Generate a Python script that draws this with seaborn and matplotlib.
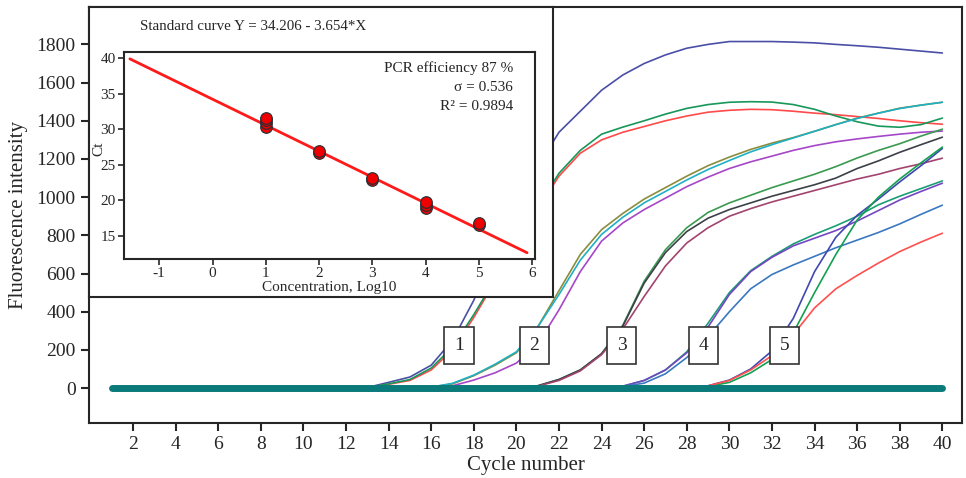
import matplotlib
matplotlib.use("Agg")
import matplotlib.pyplot as plt
import numpy as np
import pandas as pd
import seaborn as sns

# amplification curves (fluorescence per cycle)
g1_cycles = list(range(13, 41))
g1_blue = [3, 30, 58, 120, 250, 460, 730, 960, 1160, 1340, 1450, 1560, 1640, 1700,
           1745, 1780, 1800, 1815, 1815, 1815, 1812, 1808, 1800, 1793, 1785, 1775, 1765, 1755]
g1_red = [3, 20, 40, 95, 200, 370, 560, 760, 940, 1110, 1230, 1300, 1340, 1370,
          1400, 1425, 1445, 1455, 1460, 1458, 1450, 1440, 1432, 1422, 1412, 1400, 1390, 1382]
g1_green = [3, 22, 45, 105, 215, 385, 570, 770, 950, 1125, 1245, 1330, 1367, 1400,
            1435, 1465, 1485, 1497, 1500, 1498, 1485, 1460, 1425, 1395, 1372, 1366, 1380, 1414]

g2_cycles = list(range(16, 41))
g2_olive = [5, 22, 65, 120, 185, 320, 510, 700, 830, 915, 990, 1050, 1110, 1165, 1210,
            1250, 1283, 1312, 1345, 1380, 1414, 1440, 1466, 1482, 1497]
g2_cyan = [5, 25, 68, 125, 190, 320, 490, 670, 805, 895, 970, 1030, 1090, 1145, 1192,
           1237, 1275, 1310, 1345, 1380, 1412, 1440, 1464, 1482, 1497]
g2_purple = [2, 12, 42, 80, 131, 230, 410, 610, 770, 865, 935, 995, 1055, 1105, 1150,
             1185, 1215, 1245, 1270, 1290, 1305, 1318, 1330, 1340, 1346]

g3_cycles = list(range(20, 41))
g3_green = [3, 12, 45, 95, 180, 330, 560, 725, 840, 920, 970, 1010, 1050, 1085, 1120,
            1160, 1205, 1245, 1280, 1320, 1356]
g3_black = [3, 12, 45, 95, 180, 325, 550, 710, 820, 890, 935, 970, 1005, 1035, 1065,
            1100, 1150, 1190, 1235, 1275, 1314]
g3_maroon = [3, 10, 40, 90, 175, 310, 480, 640, 760, 840, 900, 940, 975, 1005, 1035,
             1065, 1095, 1120, 1150, 1175, 1204]

g4_cycles = list(range(24, 41))
g4_green = [3, 10, 40, 95, 190, 340, 500, 615, 690, 755, 805, 850, 900, 960, 1005, 1045, 1085]
g4_purple = [3, 10, 40, 95, 185, 320, 490, 610, 685, 745, 785, 825, 875, 930, 985, 1030, 1073]
g4_blue = [2, 8, 26, 75, 160, 270, 400, 520, 595, 645, 690, 735, 775, 815, 860, 910, 958]

g5_cycles = list(range(28, 41))
g5_blue = [3, 12, 42, 100, 195, 365, 610, 790, 905, 990, 1080, 1165, 1255]
g5_green = [2, 8, 30, 80, 150, 290, 500, 700, 880, 1000, 1095, 1180, 1262]
g5_red = [3, 12, 40, 95, 170, 280, 420, 520, 590, 655, 715, 765, 811]

# negative controls / baseline
base_cycles = list(range(1, 41))
base_values = [0, 0, 0, 0, 0, 0, 0, 0, 0, 0, 0, 0, 0, 0, 0, 0, 0, 0, 0, 0,
               0, 0, 0, 0, 0, 0, 0, 0, 0, 0, 0, 0, 0, 0, 0, 0, 0, 0, 0, 0]

# standard curve
conc_log = [1, 1, 1, 1, 2, 2, 3, 3, 4, 4, 4, 5, 5]
ct_values = [30.3, 30.8, 31.3, 31.6, 26.6, 26.9, 22.8, 23.1, 18.9, 19.4, 19.8, 16.6, 16.8]
fit_intercept = 34.206
fit_slope = -3.654
fit_x = [-1.55, 5.9]

curves = {
    "g1_blue": (g1_cycles, g1_blue, "#4a4fa6"),
    "g1_red": (g1_cycles, g1_red, "#ff4a4a"),
    "g1_green": (g1_cycles, g1_green, "#17975a"),
    "g2_olive": (g2_cycles, g2_olive, "#8c8c3c"),
    "g2_cyan": (g2_cycles, g2_cyan, "#1fb0c4"),
    "g2_purple": (g2_cycles, g2_purple, "#a646c8"),
    "g3_green": (g3_cycles, g3_green, "#3a9a50"),
    "g3_black": (g3_cycles, g3_black, "#3c4048"),
    "g3_maroon": (g3_cycles, g3_maroon, "#a2446e"),
    "g4_green": (g4_cycles, g4_green, "#1a9e74"),
    "g4_purple": (g4_cycles, g4_purple, "#7446c4"),
    "g4_blue": (g4_cycles, g4_blue, "#3a78c0"),
    "g5_blue": (g5_cycles, g5_blue, "#4048b0"),
    "g5_green": (g5_cycles, g5_green, "#13a050"),
    "g5_red": (g5_cycles, g5_red, "#ff5050"),
}

rows = []
for name, (cyc, vals, _) in curves.items():
    for c, v in zip(cyc, vals):
        rows.append((name, c, v))
df = pd.DataFrame(rows, columns=["curve", "cycle", "fluor"])
palette = {k: v[2] for k, v in curves.items()}

sns.set_style("ticks")
plt.rcParams["font.family"] = ["Liberation Serif", "DejaVu Serif"]
plt.rcParams["axes.linewidth"] = 1.5
plt.rcParams["axes.unicode_minus"] = False

fig = plt.figure(figsize=(9.66, 4.78), dpi=100)
ax = fig.add_axes([0.0921, 0.115, 0.9037, 0.870])

sns.lineplot(data=df, x="cycle", y="fluor", hue="curve", palette=palette,
             estimator=None, linewidth=1.2, legend=False, ax=ax)
sns.lineplot(x=base_cycles, y=base_values, color="#0a7a7a", linewidth=5,
             solid_capstyle="round", ax=ax)

ax.set_xlim(-0.07, 40.92)
ax.set_ylim(-183, 1995)
ax.set_xticks(range(2, 41, 2))
ax.set_yticks(range(0, 1801, 200))
ax.tick_params(direction="out", length=6, width=1.5, labelsize=14)
ax.set_xlabel("Cycle number", fontsize=15, labelpad=2)
ax.set_ylabel("Fluorescence intensity", fontsize=15, labelpad=6)

label_cycles = [17.3, 20.85, 24.95, 28.8, 32.6]
for i, c in enumerate(label_cycles, start=1):
    ax.text(c, 222, str(i), fontsize=14, ha="center", va="center", zorder=5,
            bbox=dict(boxstyle="square,pad=0.5", fc="white", ec="#333333", lw=1.2))

# inset frame
box = fig.add_axes([0.0921, 0.3787, 0.4803, 0.6067])
box.set_xticks([])
box.set_yticks([])
box.set_facecolor("white")
box.text(0.353, 0.933, "Standard curve Y = 34.206 - 3.654*X", fontsize=10.8,
         ha="center", va="center", transform=box.transAxes)

ins = fig.add_axes([0.1284, 0.4582, 0.4255, 0.4331])
fit_y = [fit_intercept + fit_slope * x for x in fit_x]
sns.lineplot(x=fit_x, y=fit_y, color="#ff1a1a", linewidth=2, ax=ins)
sns.scatterplot(x=conc_log, y=ct_values, color="#ee0000", edgecolor="#203038",
                linewidth=0.8, s=70, zorder=3, ax=ins)
ins.set_xlim(-1.66, 6.05)
ins.set_ylim(11.77, 40.84)
ins.set_xticks(range(-1, 7))
ins.set_yticks(range(15, 41, 5))
ins.tick_params(direction="out", length=4, width=1.2, labelsize=11, pad=2)
ins.set_xlabel("Concentration, Log10", fontsize=11, labelpad=0.5)
ins.set_ylabel("Ct", fontsize=11)
ins.yaxis.set_label_coords(-0.045, 0.53)
ins.text(0.947, 0.955, "PCR efficiency 87 %\nσ = 0.536\nR² = 0.9894", fontsize=11,
         ha="right", va="top", linespacing=1.6, transform=ins.transAxes)

fig.savefig("out.png", dpi=100)
